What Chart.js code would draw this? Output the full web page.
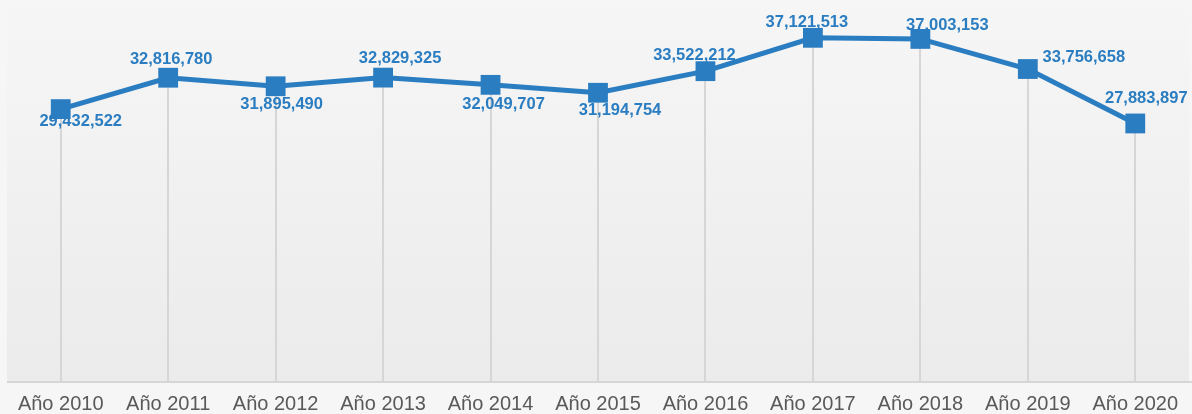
<!DOCTYPE html>
<html>
<head>
<meta charset="utf-8">
<script src="https://cdn.jsdelivr.net/npm/chart.js@4/dist/chart.umd.min.js"></script>
<style>
  html, body { margin: 0; padding: 0; background: #f6f6f6; }
  #wrap { width: 1192px; height: 414px; }
</style>
</head>
<body>
<div id="wrap"><canvas id="c" width="1192" height="414"></canvas></div>
<script>
const categories = ["Año 2010", "Año 2011", "Año 2012", "Año 2013", "Año 2014", "Año 2015", "Año 2016", "Año 2017", "Año 2018", "Año 2019", "Año 2020"];
const values = [29432522, 32816780, 31895490, 32829325, 32049707, 31194754, 33522212, 37121513, 37003153, 33756658, 27883897];

// label placement (dx, dy) relative to each point, as in the reference
const labelOffsets = [[20, 12], [3, -18], [6, 18], [17, -19], [13, 20], [22, 18], [-11, -16], [-6, -15], [27, -13], [56, -12], [11, -25]];

const LINE_COLOR = '#2b7dc1';

const bgPlugin = {
  id: 'bg',
  beforeDraw(chart) {
    const { ctx, chartArea: a, width, height } = chart;
    ctx.save();
    ctx.fillStyle = '#f6f6f6';
    ctx.fillRect(0, 0, width, height);
    const g = ctx.createLinearGradient(0, a.top, 0, a.bottom);
    g.addColorStop(0, '#f6f6f6');
    g.addColorStop(1, '#ebebeb');
    ctx.fillStyle = g;
    ctx.fillRect(a.left, a.top, a.right - a.left, a.bottom - a.top);
    ctx.restore();
  }
};

const dropLines = {
  id: 'dropLines',
  beforeDatasetsDraw(chart) {
    const { ctx, chartArea: a } = chart;
    const meta = chart.getDatasetMeta(0);
    ctx.save();
    ctx.strokeStyle = '#d6d6d6';
    ctx.lineWidth = 2;
    meta.data.forEach(p => {
      ctx.beginPath();
      ctx.moveTo(Math.round(p.x), p.y);
      ctx.lineTo(Math.round(p.x), a.bottom);
      ctx.stroke();
    });
    // baseline
    ctx.beginPath();
    ctx.moveTo(a.left, a.bottom);
    ctx.lineTo(chart.width, a.bottom);
    ctx.stroke();
    ctx.restore();
  }
};

const dataLabels = {
  id: 'dataLabels',
  afterDatasetsDraw(chart) {
    const { ctx } = chart;
    const meta = chart.getDatasetMeta(0);
    const ds = chart.data.datasets[0];
    ctx.save();
    ctx.font = 'bold 16.5px "Liberation Sans", Arial, sans-serif';
    ctx.fillStyle = LINE_COLOR;
    ctx.textAlign = 'center';
    ctx.textBaseline = 'middle';
    meta.data.forEach((p, i) => {
      const off = labelOffsets[i] || [0, -18];
      ctx.fillText(ds.data[i].toLocaleString('en-US'), p.x + off[0], p.y + off[1]);
    });
    ctx.restore();
  }
};

new Chart(document.getElementById('c'), {
  type: 'line',
  data: {
    labels: categories,
    datasets: [{
      data: values,
      borderColor: LINE_COLOR,
      backgroundColor: LINE_COLOR,
      borderWidth: 5,
      pointStyle: 'rect',
      pointRadius: 14,
      pointHoverRadius: 14,
      pointBorderWidth: 0,
      tension: 0,
      clip: false
    }]
  },
  options: {
    responsive: false,
    animation: false,
    layout: { autoPadding: false, padding: { left: 7, right: 3, top: 0, bottom: -12 } },
    plugins: { legend: { display: false }, tooltip: { enabled: false } },
    scales: {
      x: {
        offset: true,
        grid: { display: false, drawTicks: false },
        border: { display: false },
        ticks: {
          color: '#595959',
          font: { family: '"Liberation Sans", Arial, sans-serif', size: 20, lineHeight: 1.0 },
          padding: 12,
          maxRotation: 0,
          autoSkip: false
        }
      },
      y: {
        display: false,
        min: 0,
        max: 41200000
      }
    }
  },
  plugins: [bgPlugin, dropLines, dataLabels]
});
</script>
</body>
</html>
